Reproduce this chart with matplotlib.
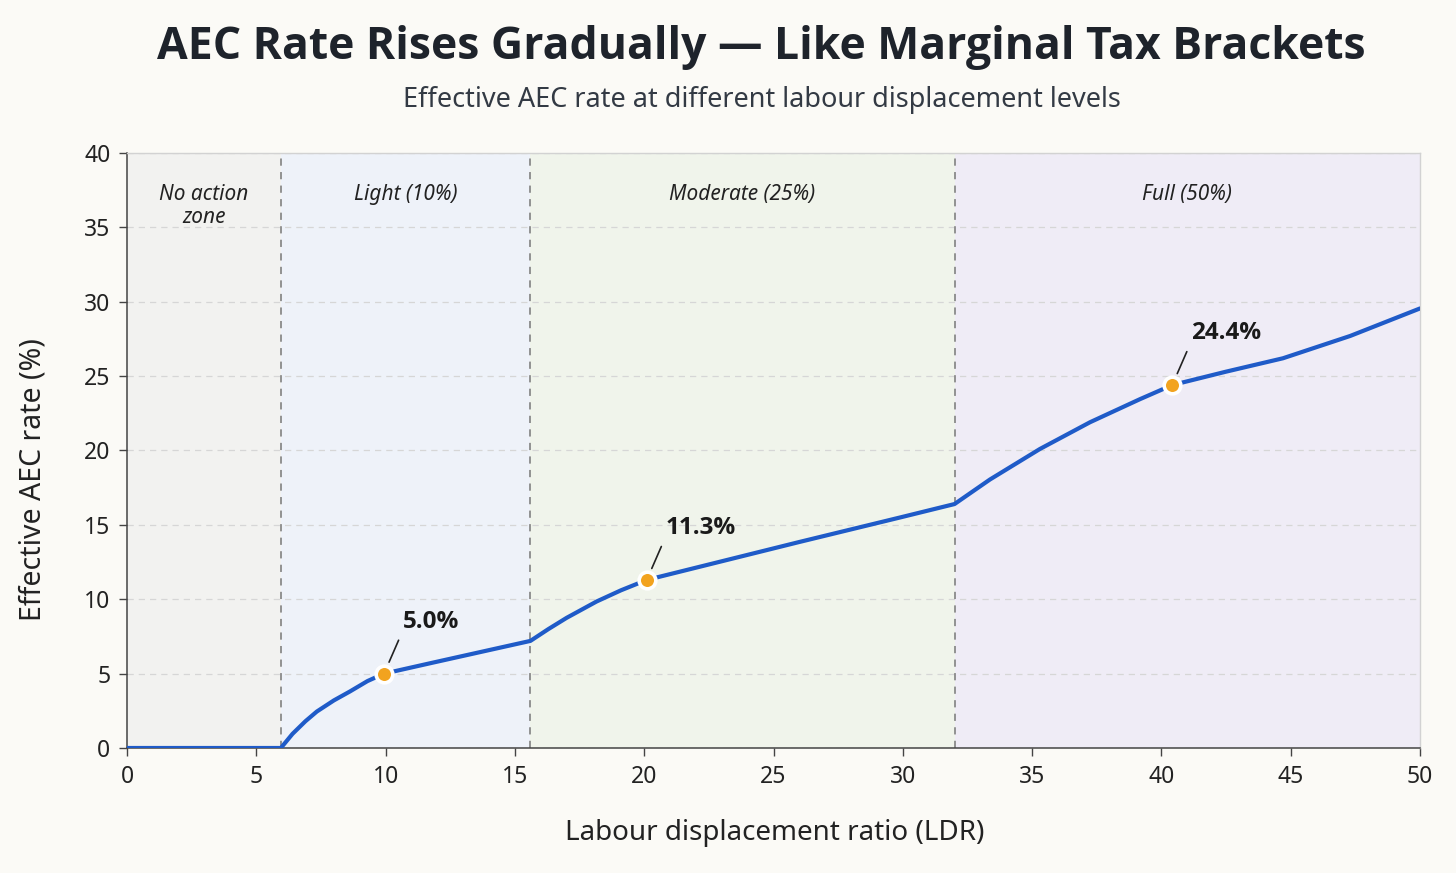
import matplotlib
matplotlib.use("Agg")
import matplotlib.pyplot as plt

plt.rcParams['font.family'] = ['Noto Sans', 'DejaVu Sans']
BOLD_FAM = ['Open Sans', 'Roboto', 'DejaVu Sans']

# ---- data ----
ldr = [0, 5.95, 6.4, 6.9, 7.34, 8.0, 8.62, 9.3, 9.94, 11.83, 15.6, 16.3, 17.0,
       18.16, 19.1, 20.1, 26.0, 29.9, 32.0, 33.37, 35.3, 37.24, 39.17, 40.42,
       42.5, 44.7, 47.3, 50.0]
rate = [0, 0, 0.95, 1.8, 2.45, 3.2, 3.8, 4.5, 5.0, 5.74, 7.2, 8.0, 8.75,
        9.85, 10.6, 11.3, 13.85, 15.5, 16.4, 18.05, 20.1, 21.9, 23.45, 24.4,
        25.3, 26.2, 27.7, 29.55]

zone_edges = [0, 5.95, 15.6, 32.0, 50.0]
zone_names = ["No action\nzone", "Light (10%)", "Moderate (25%)", "Full (50%)"]
zone_colors = ["#f2f2f0", "#eef2f9", "#f0f4eb", "#efecf6"]

mark_x = [9.94, 20.1, 40.42]
mark_y = [5.0, 11.3, 24.4]
mark_labels = ["5.0%", "11.3%", "24.4%"]

x_ticks = [0, 5, 10, 15, 20, 25, 30, 35, 40, 45, 50]
y_ticks = [0, 5, 10, 15, 20, 25, 30, 35, 40]

title = "AEC Rate Rises Gradually — Like Marginal Tax Brackets"
subtitle = "Effective AEC rate at different labour displacement levels"
xlabel = "Labour displacement ratio (LDR)"
ylabel = "Effective AEC rate (%)"

# ---- figure ----
bg = "#fbfaf6"
fig = plt.figure(figsize=(14.56, 8.73), dpi=100, facecolor=bg)
ax = fig.add_axes([127/1456, 1-748/873, (1420-127)/1456, (748-153)/873])
ax.set_facecolor(bg)

ax.set_xlim(0, 50)
ax.set_ylim(0, 40)

for i, name in enumerate(zone_names):
    x0, x1 = zone_edges[i], zone_edges[i+1]
    ax.axvspan(x0, x1, color=zone_colors[i], zorder=0, lw=0)
    ax.text((x0+x1)/2, 37.9, name, ha='center', va='top', style='italic',
            fontsize=15, color='#222222', linespacing=1.12, zorder=5)

for e in zone_edges[1:-1]:
    ax.axvline(e, color='#8a8a8a', lw=1.3, ls=(0, (4, 3.5)), zorder=2)

ax.set_yticks(y_ticks)
ax.set_xticks(x_ticks)
ax.yaxis.grid(True, color='#d6d6d6', ls=(0, (5, 4)), lw=0.9, zorder=1)
ax.xaxis.grid(False)
ax.set_axisbelow(True)

ax.plot(ldr, rate, color='#1f5bc8', lw=3.0, solid_capstyle='round',
        solid_joinstyle='round', zorder=4)
ax.plot(mark_x, mark_y, ls='none', marker='o', ms=12, mfc='#f2a31f',
        mec='white', mew=2.6, zorder=6)

for mx, my, lab in zip(mark_x, mark_y, mark_labels):
    ax.annotate(lab, xy=(mx, my), xytext=(19, 52), textcoords='offset pixels',
                ha='left', va='center', fontsize=17.5, fontweight='bold',
                family=BOLD_FAM, color='#1a1a1a', zorder=7,
                arrowprops=dict(arrowstyle='-', color='#222222', lw=1.2,
                                shrinkA=3, shrinkB=9, relpos=(0.0, 0.15)))

for side in ['top', 'right']:
    ax.spines[side].set_color('#d2d2d2')
    ax.spines[side].set_linewidth(1.0)
for side in ['left', 'bottom']:
    ax.spines[side].set_color('#444444')
    ax.spines[side].set_linewidth(1.1)

ax.tick_params(axis='both', direction='out', length=6, width=1.0,
               color='#444444', labelsize=16.5, labelcolor='#222222', pad=6)

fig.text(0.523, 1-48/873, title, ha='center', va='center', fontsize=32,
         fontweight='bold', family=BOLD_FAM, color='#1e232b')
fig.text(0.523, 1-100/873, subtitle, ha='center', va='center', fontsize=19.5,
         color='#333a44')
fig.text(775/1456, 1-833/873, xlabel, ha='center', va='center', fontsize=20,
         color='#222222')
fig.text(33/1456, 1-480/873, ylabel, ha='center', va='center', fontsize=20.5,
         rotation=90, color='#222222')

fig.savefig("out.png", dpi=100, facecolor=bg)
